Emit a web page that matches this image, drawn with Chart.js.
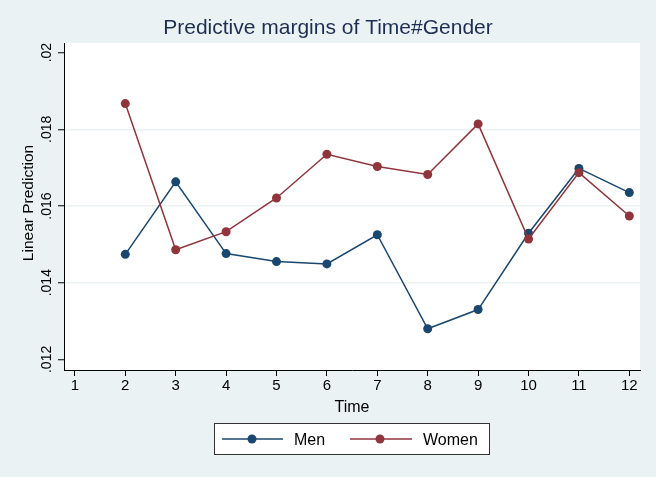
<!DOCTYPE html>
<html>
<head>
<meta charset="utf-8">
<script src="https://cdn.jsdelivr.net/npm/chart.js@4"></script>
<style>
html,body{margin:0;padding:0;background:#EAF2F3;}
#wrap{width:656px;height:477px;position:relative;}
</style>
</head>
<body>
<div id="wrap"><canvas id="c"></canvas></div>
<script>
// ---- data ----
const chartTitle = 'Predictive margins of Time#Gender';
const xTitle = 'Time';
const yTitle = 'Linear Prediction';
const timeTicks = [1,2,3,4,5,6,7,8,9,10,11,12];
const seriesTimes = [2,3,4,5,6,7,8,9,10,11,12];
const menValues   = [0.01474,0.01663,0.01476,0.01455,0.01449,0.01525,0.01280,0.01330,0.01529,0.01698,0.01635];
const womenValues = [0.01867,0.01486,0.01533,0.01621,0.01735,0.01703,0.01682,0.01814,0.01514,0.01687,0.01574];
const yTickValues = [0.012,0.014,0.016,0.018,0.020];
const yTickLabels = ['.012','.014','.016','.018','.02'];
const seriesNames = ['Men','Women'];
const seriesColors = ['#1A476F','#90353B'];

const FONT = '"Liberation Sans", Arial, Helvetica, sans-serif';

const toPoints = vals => seriesTimes.map((t,i)=>({x:t,y:vals[i]}));

const bgPlugin = {
  id:'plotBg',
  beforeDraw(chart){
    const {ctx, chartArea:a} = chart;
    ctx.save();
    ctx.fillStyle = '#FFFFFF';
    ctx.fillRect(a.left, a.top, a.right-a.left, a.bottom-a.top);
    ctx.restore();
  }
};

const textPlugin = {
  id:'texts',
  afterDraw(chart){
    const ctx = chart.ctx;
    const ys = chart.scales.y;
    const a = chart.chartArea;
    ctx.save();
    // title
    ctx.font = '21px ' + FONT;
    ctx.fillStyle = '#1E2D52';
    ctx.textAlign = 'center';
    ctx.textBaseline = 'alphabetic';
    ctx.fillText(chartTitle, 328, 34);
    // y tick labels (rotated)
    ctx.fillStyle = '#000';
    ctx.font = '14px ' + FONT;
    yTickValues.forEach((v,i)=>{
      const py = ys.getPixelForValue(v);
      ctx.save();
      ctx.translate(51, py);
      ctx.rotate(-Math.PI/2);
      ctx.textAlign = 'center';
      ctx.fillText(yTickLabels[i], 0, 0);
      ctx.restore();
    });
    // y title
    ctx.font = '15.5px ' + FONT;
    ctx.save();
    ctx.translate(33, 203);
    ctx.rotate(-Math.PI/2);
    ctx.textAlign = 'center';
    ctx.fillText(yTitle, 0, 0);
    ctx.restore();
    // x title
    ctx.font = '16px ' + FONT;
    ctx.textAlign = 'center';
    ctx.fillText(xTitle, (a.left+a.right)/2, 412);
    // legend
    ctx.fillStyle = '#FFFFFF';
    ctx.fillRect(214.5, 423.5, 275, 31);
    ctx.strokeStyle = '#333333';
    ctx.lineWidth = 1;
    ctx.strokeRect(214.5, 423.5, 275, 31);
    const items = [{x0:222,x1:283,m:252,tx:294},{x0:350,x1:412,m:380,tx:423}];
    items.forEach((it,i)=>{
      ctx.strokeStyle = seriesColors[i];
      ctx.lineWidth = 1.5;
      ctx.beginPath(); ctx.moveTo(it.x0,439); ctx.lineTo(it.x1,439); ctx.stroke();
      ctx.fillStyle = seriesColors[i];
      ctx.beginPath(); ctx.arc(it.m,439,4.5,0,Math.PI*2); ctx.fill();
      ctx.fillStyle = '#000';
      ctx.font = '16px ' + FONT;
      ctx.textAlign = 'left';
      ctx.fillText(seriesNames[i], it.tx, 445);
    });
    ctx.restore();
  }
};

new Chart(document.getElementById('c'), {
  type:'scatter',
  data:{
    datasets:[
      {label:seriesNames[0], data:toPoints(menValues), showLine:true, borderColor:seriesColors[0], backgroundColor:seriesColors[0],
       pointBackgroundColor:seriesColors[0], pointBorderWidth:0, pointRadius:4.5, borderWidth:1.5, tension:0, order:1},
      {label:seriesNames[1], data:toPoints(womenValues), showLine:true, borderColor:seriesColors[1], backgroundColor:seriesColors[1],
       pointBackgroundColor:seriesColors[1], pointBorderWidth:0, pointRadius:4.5, borderWidth:1.5, tension:0, order:0}
    ]
  },
  options:{
    responsive:true, maintainAspectRatio:false, animation:false, devicePixelRatio:1,
    layout:{padding:{left:0,right:16,top:43,bottom:0}},
    plugins:{legend:{display:false}, title:{display:false}, tooltip:{enabled:false}},
    scales:{
      x:{
        type:'linear', min:0.784, max:12.212,
        afterBuildTicks: s => { s.ticks = timeTicks.map(v=>({value:v})); },
        afterFit: s => { s.height = 107; },
        ticks:{font:{family:FONT,size:15}, color:'#000', padding:1, autoSkip:false, maxRotation:0, minRotation:0,
               callback: v => String(v)},
        grid:{drawOnChartArea:false, drawTicks:true, tickLength:6, tickColor:'#000', tickWidth:1},
        border:{display:true, color:'#000', width:1}
      },
      y:{
        type:'linear', min:0.011724, max:0.02025,
        afterBuildTicks: s => { s.ticks = yTickValues.map(v=>({value:v})); },
        afterFit: s => { s.width = 64; },
        ticks:{display:false},
        grid:{drawOnChartArea:true, drawTicks:true, tickLength:6, tickColor:'#000', tickWidth:1,
              color: c => (c.tick && c.tick.value > 0.0125 && c.tick.value < 0.0195) ? '#EAF2F3' : 'rgba(0,0,0,0)',
              lineWidth:1.5},
        border:{display:true, color:'#000', width:1}
      }
    }
  },
  plugins:[bgPlugin, textPlugin]
});
</script>
</body>
</html>
